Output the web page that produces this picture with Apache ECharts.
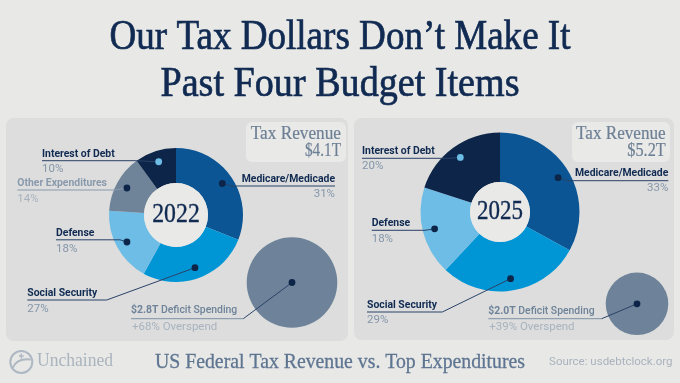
<!DOCTYPE html>
<html><head><meta charset="utf-8">
<script src="https://cdn.jsdelivr.net/npm/echarts@6/dist/echarts.min.js"></script>
<style>html,body{margin:0;padding:0;background:#e8e8e6}#c{width:680px;height:383px}</style>
</head><body><div id="c"></div>
<script>
// ---------------- data ----------------
const titleLines = ['Our Tax Dollars Don\u2019t Make It', 'Past Four Budget Items'];
const years = ['2022', '2025'];
const categories2022 = ['Medicare/Medicade', 'Social Security', 'Defense', 'Other Expenditures', 'Interest of Debt'];
const shares2022 = [31, 27, 18, 14, 10];
const categories2025 = ['Medicare/Medicade', 'Social Security', 'Defense', 'Interest of Debt'];
const shares2025 = [33, 29, 18, 20];
const revenueLabels = ['$4.1T', '$5.2T'];
const deficitLabels = ['$2.8T', '$2.0T'];
const deficitValues = [2.8, 2.0];
const overspendLabels = ['+68%', '+39%'];
const subtitle = 'US Federal Tax Revenue vs. Top Expenditures';
const sourceText = 'Source: usdebtclock.org';
const brandText = 'Unchained';

// ---------------- style ----------------
const NAVY = '#102a52';
const GRAY = '#8596aa';
const LIGHTGRAY = '#a8b3bf';
const BG = '#e8e8e6';
const PANEL = '#dcdddc';
const colorMap = {
  'Medicare/Medicade': '#0b5595',
  'Social Security': '#0096d6',
  'Defense': '#6dbde7',
  'Other Expenditures': '#6f8499',
  'Interest of Debt': '#0c2549'
};
const SERIF = '"Liberation Serif", serif';
const SANS = 'Roboto, Inter, "Noto Sans", sans-serif';

const ctx = document.createElement('canvas').getContext('2d');
function measure(text, weight, family) { ctx.font = weight + ' 100px ' + family; return ctx.measureText(text).width / 100; }

// label font size fitted to the reference label widths (layout only)
const nameFits = [['Medicare/Medicade', 91.5], ['Interest of Debt', 75.3], ['Other Expenditures', 90], ['Social Security', 69.4], ['Defense', 38.3]];
const nameSize = nameFits.reduce(function (s, f) { return s + f[1] / measure(f[0], 700, SANS); }, 0) / nameFits.length;
const pctSize = 85.3 / measure('+68% Overspend', 400, SANS);

function serifText(text, x, y, size, targetW, color, align, bold) {
  const w = measure(text, 400, SERIF) * size;
  const st = { text: text, x: 0, y: 0, fill: color, fontSize: size, fontFamily: SERIF, align: align || 'center', verticalAlign: 'middle' };
  if (bold) { st.stroke = color; st.lineWidth = bold; }
  return { type: 'text', x: x, y: y, scaleX: targetW ? targetW / w : 1, z: 20, silent: true, style: st };
}

// layout per panel
const panels = [
  { cats: categories2022, vals: shares2022, cx: 176, cy: 215, r0: 32, r: 67, dotR: 56,
    rect: [6, 118, 342, 223], box: [246, 122, 100, 40], boxRight: 341,
    defC: [292, 282.5], defR: 45.3,
    labels: {
      'Interest of Debt': { x: 42, nameY: 154.3, pctY: 168.7, lineY: 160.7, turnX: 135 },
      'Other Expenditures': { x: 17.3, nameY: 183.3, pctY: 198.7, lineY: 190, turnX: 115, muted: true },
      'Defense': { x: 56, nameY: 233.3, pctY: 248.7, lineY: 239.8, turnX: 120 },
      'Social Security': { x: 27.3, nameY: 293, pctY: 309.3, lineY: 300, turnX: 106.7 },
      'Medicare/Medicade': { x: 335, nameY: 179, pctY: 194.3, lineY: 186, turnX: 232, right: true }
    },
    deficit: { x: 131, nameY: 310.7, pctY: 327.3, lineY: 318.7, turnX: 243.3 } },
  { cats: categories2025, vals: shares2025, cx: 500, cy: 212, r0: 30, r: 79.5, dotR: 67.5,
    rect: [354, 118, 320, 222], box: [572, 122, 98, 40], boxRight: 665.7,
    defC: [637, 303.8], defR: 31.3,
    labels: {
      'Interest of Debt': { x: 362, nameY: 151, pctY: 166.3, lineY: 158.3, turnX: 450 },
      'Defense': { x: 371.7, nameY: 223.7, pctY: 238.7, lineY: 230.3, turnX: 425 },
      'Social Security': { x: 367, nameY: 305.5, pctY: 320.3, lineY: 312, turnX: 442.3 },
      'Medicare/Medicade': { x: 668.3, nameY: 173.3, pctY: 188, lineY: 180.7, turnX: 568, right: true }
    },
    deficit: { x: 488.3, nameY: 311.3, pctY: 327, lineY: 318.7, turnX: 601.7 } }
];

const series = [];
const graphics = [];

// title
graphics.push(serifText(titleLines[0], 340, 38, 43, 461, NAVY, null, 0.7));
graphics.push(serifText(titleLines[1], 340, 84.5, 43, 359, NAVY, null, 0.7));

panels.forEach(function (p, pi) {
  graphics.push({ type: 'rect', z: 0, silent: true, shape: { x: p.rect[0], y: p.rect[1], width: p.rect[2], height: p.rect[3], r: 8 }, style: { fill: PANEL } });
  graphics.push({ type: 'rect', z: 1, silent: true, shape: { x: p.box[0], y: p.box[1], width: p.box[2], height: p.box[3], r: 6 }, style: { fill: '#e9e9e7' } });
  graphics.push(serifText('Tax Revenue', p.boxRight, 134.3, 19, p.boxRight - (pi === 0 ? 250.7 : 576), '#6c7f95', 'right', 0.2));
  graphics.push(serifText(revenueLabels[pi], p.boxRight, 151.2, 19.5, pi === 0 ? 36 : 38.4, '#6c7f95', 'right', 0.2));

  // donut
  series.push({ type: 'pie', silent: true, animation: false, center: [p.cx, p.cy], radius: [p.r0, p.r],
    startAngle: 90, clockwise: true, label: { show: false }, labelLine: { show: false },
    itemStyle: { borderWidth: 0 },
    data: p.cats.map(function (c, i) { return { name: c, value: p.vals[i], itemStyle: { color: colorMap[c] } }; }) });
  // inner disc
  series.push({ type: 'pie', silent: true, animation: false, center: [p.cx, p.cy], radius: [0, p.r0],
    label: { show: false }, labelLine: { show: false }, data: [{ name: years[pi], value: 1, itemStyle: { color: '#e9e9e7' } }] });
  graphics.push(serifText(years[pi], p.cx, p.cy, 28, pi === 0 ? 47.6 : 46, NAVY, null, 0.4));
  // deficit circle
  series.push({ type: 'pie', silent: true, animation: false, center: p.defC, radius: [0, p.defR],
    label: { show: false }, labelLine: { show: false },
    data: [{ name: deficitLabels[pi], value: deficitValues[pi], itemStyle: { color: '#6e8399' } }] });

  // labels + dots
  const total = p.vals.reduce(function (a, b) { return a + b; }, 0);
  let cum = 0;
  p.cats.forEach(function (c, i) {
    const mid = (cum + p.vals[i] / 2) / total * 2 * Math.PI;
    cum += p.vals[i];
    const dx = p.cx + p.dotR * Math.sin(mid), dy = p.cy - p.dotR * Math.cos(mid);
    const L = p.labels[c];
    const nameColor = L.muted ? '#8a9aad' : NAVY;
    const pctColor = L.muted ? LIGHTGRAY : GRAY;
    const lineColor = L.muted ? '#8a9aad' : '#2a4268';
    graphics.push({ type: 'polyline', z: 15, silent: true, shape: { points: [[L.x, L.lineY], [L.turnX, L.lineY], [dx, dy]] }, style: { stroke: lineColor, lineWidth: 1, fill: null } });
    graphics.push({ type: 'circle', z: 16, silent: true, shape: { cx: dx, cy: dy, r: 3.4 }, style: { fill: c === 'Interest of Debt' ? '#6dbde7' : '#0c2549' } });
    graphics.push({ type: 'text', z: 20, silent: true, style: { text: c, x: L.x, y: L.nameY, fill: nameColor, fontSize: nameSize, fontWeight: 700, fontFamily: SANS, align: L.right ? 'right' : 'left', verticalAlign: 'middle' } });
    graphics.push({ type: 'text', z: 20, silent: true, style: { text: p.vals[i] + '%', x: L.x, y: L.pctY, fill: pctColor, fontSize: pctSize, fontWeight: 400, fontFamily: SANS, align: L.right ? 'right' : 'left', verticalAlign: 'middle' } });
  });

  // deficit label
  const D = p.deficit;
  graphics.push({ type: 'polyline', z: 15, silent: true, shape: { points: [[D.x, D.lineY], [D.turnX, D.lineY]] }, style: { stroke: '#7d90a5', lineWidth: 1, fill: null } });
  graphics.push({ type: 'polyline', z: 15, silent: true, shape: { points: [[D.turnX, D.lineY], p.defC] }, style: { stroke: '#2a4268', lineWidth: 1, fill: null } });
  graphics.push({ type: 'circle', z: 16, silent: true, shape: { cx: p.defC[0], cy: p.defC[1], r: 3.4 }, style: { fill: '#0c2549' } });
  graphics.push({ type: 'text', z: 20, silent: true, style: { text: '{b|' + deficitLabels[pi] + '}{n| Deficit Spending}', x: D.x, y: D.nameY, verticalAlign: 'middle',
    rich: { b: { fontWeight: 700, fontSize: nameSize, fontFamily: SANS, fill: '#6e8399' },
            n: { fontWeight: 500, fontSize: nameSize, fontFamily: SANS, fill: '#6e8399' } } } });
  graphics.push({ type: 'text', z: 20, silent: true, style: { text: overspendLabels[pi] + ' Overspend', x: D.x + 1, y: D.pctY, fill: LIGHTGRAY, fontSize: pctSize, fontWeight: 400, fontFamily: SANS, verticalAlign: 'middle' } });
});

// footer
graphics.push({ type: 'circle', z: 20, silent: true, shape: { cx: 21.3, cy: 362, r: 11 }, style: { stroke: '#aeb8c2', lineWidth: 2, fill: null } });
graphics.push({ type: 'bezierCurve', z: 20, silent: true, shape: { x1: 12.5, y1: 368, cpx1: 17, cpy1: 358, x2: 30.5, y2: 359.5 }, style: { stroke: '#aeb8c2', lineWidth: 2, fill: null } });
graphics.push({ type: 'line', z: 20, silent: true, shape: { x1: 21.3, y1: 353.5, x2: 21.3, y2: 358.5 }, style: { stroke: '#aeb8c2', lineWidth: 1.4 } });
graphics.push({ type: 'line', z: 20, silent: true, shape: { x1: 18.8, y1: 356, x2: 23.8, y2: 356 }, style: { stroke: '#aeb8c2', lineWidth: 1.4 } });
graphics.push(serifText(brandText, 37, 361.5, 19, 76, '#aab4be', 'left'));
graphics.push(serifText(subtitle, 340, 362, 21.5, 370, '#5e7591', null, 0.3));
const srcSize = 123.6 / measure(sourceText, 400, SANS);
graphics.push({ type: 'text', z: 20, silent: true, style: { text: sourceText, x: 672.5, y: 362, fill: '#a9b3bd', fontSize: srcSize, fontFamily: SANS, align: 'right', verticalAlign: 'middle' } });

const chart = echarts.init(document.getElementById('c'), null, { renderer: 'canvas' });
chart.setOption({ backgroundColor: BG, animation: false, series: series, graphic: { elements: graphics } });
</script></body></html>
